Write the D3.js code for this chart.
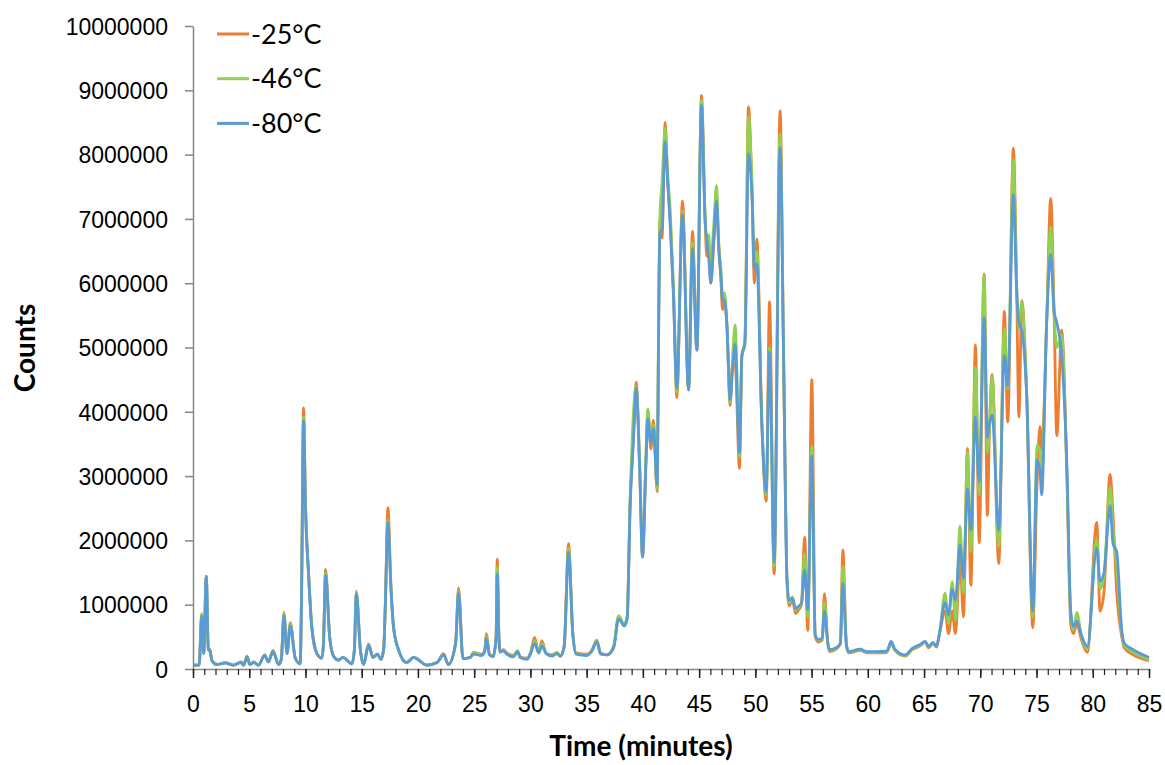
<!DOCTYPE html>
<html>
<head>
<meta charset="utf-8">
<script src="https://cdn.jsdelivr.net/npm/d3@7"></script>
<style>
  html, body { margin: 0; padding: 0; background: #ffffff; }
  svg { display: block; font-family: Lato, "Open Sans", "Liberation Sans", sans-serif; }
</style>
</head>
<body>
<svg id="chart" width="1165" height="765"></svg>
<script>
// Retention time (minutes)
const times = [
  0,0.55,0.77,0.95,1.18,1.36,1.5,1.69,2.13,2.87,
  3.61,4.27,4.5,4.8,5.05,5.39,5.83,6.37,6.7,7.11,
  7.61,7.85,8.09,8.36,8.65,9.09,9.53,9.65,9.83,10.0,
  10.28,10.57,11.02,11.47,11.6,11.79,12.15,12.5,12.94,13.33,
  14.13,14.35,14.52,14.88,15.17,15.61,16.0,16.4,16.7,16.95,
  17.1,17.33,17.6,17.83,18.27,19.0,19.61,20.8,21.7,22.28,
  22.7,23.35,23.61,24.0,24.65,24.94,25.68,25.95,26.07,26.37,
  26.7,26.95,27.05,27.2,27.3,27.6,27.9,28.5,28.85,29.1,
  29.7,30.0,30.37,30.74,31.02,31.4,31.9,32.36,32.65,33.0,
  33.39,33.77,34.07,35.02,35.46,35.9,36.25,36.8,37.4,37.84,
  38.34,38.6,38.87,39.16,39.4,39.7,39.97,40.27,40.44,40.71,
  40.94,41.27,41.39,41.51,41.7,41.98,42.2,42.43,42.72,43.02,
  43.52,44.06,44.41,44.8,45.21,45.54,45.68,45.85,46.04,46.3,
  46.55,46.75,46.95,47.08,47.26,47.47,47.76,47.95,48.2,48.59,
  48.8,49.07,49.39,49.69,49.92,50.13,50.58,50.96,51.26,51.67,
  52.2,52.5,52.8,53.0,53.3,53.57,53.85,54.1,54.38,54.66,
  55.02,55.32,55.6,55.95,56.14,56.45,56.6,57.26,57.56,57.78,
  58.1,58.3,59.32,59.9,60.8,61.7,62.07,62.4,63.32,63.95,
  64.65,65.1,65.4,65.8,66.1,66.37,66.87,67.17,67.5,67.79,
  68.2,68.5,68.86,69.16,69.57,69.9,70.34,70.63,70.8,71.05,
  71.64,72.14,72.44,72.94,73.24,73.43,73.69,74.13,74.66,75.05,
  75.3,75.46,75.9,76.26,76.56,76.8,77.24,77.69,78.04,78.28,
  78.58,79.0,79.52,80.35,80.65,81.0,81.54,81.8,82.13,82.58,
  82.8,83.6,85.0
];

// Counts in millions, one value per retention time
const countsMinus25 = [
  .06,.06,.86,.24,1.44,.32,.30,.13,.07,.10,
  .06,.11,.06,.20,.07,.11,.06,.22,.11,.29,
  .07,.15,.88,.24,.72,.17,.08,1.2,4.06,2.6,
  1.49,.65,.24,.17,.40,1.55,.50,.20,.14,.18,
  .08,.30,1.21,.30,.07,.39,.18,.23,.15,.30,
  1.0,2.51,1.3,.65,.30,.10,.18,.06,.10,.24,
  .07,.40,1.26,.16,.18,.26,.23,.30,.55,.22,
  .21,.50,1.71,.50,.28,.30,.25,.21,.28,.18,
  .17,.25,.49,.25,.44,.24,.22,.26,.20,.36,
  1.95,.55,.25,.23,.29,.45,.25,.22,.34,.80,
  .68,.80,2.61,3.6,4.46,3.2,1.75,3.21,4.04,3.42,
  3.87,2.76,5.2,6.98,6.7,8.5,7.6,7.0,5.85,4.22,
  7.28,4.34,6.81,4.96,8.92,6.95,6.42,6.5,6.0,6.6,
  7.2,6.6,6.0,5.59,5.7,5.35,4.1,4.7,4.75,3.12,
  4.87,5.1,8.74,7.5,6.0,6.69,3.8,2.61,5.71,1.48,
  8.68,4.99,1.43,.98,1.08,.86,.92,1.0,2.05,.60,
  4.5,.50,.42,.45,1.17,.38,.27,.32,.40,1.85,
  .37,.25,.29,.25,.25,.26,.41,.29,.20,.30,
  .36,.42,.33,.40,.34,.55,.90,.55,.90,.55,
  1.7,.81,3.43,1.3,5.04,1.96,6.14,2.39,3.6,4.58,
  1.64,5.56,3.84,8.1,5.85,3.92,5.73,4.24,.64,2.9,
  3.77,3.4,5.39,7.32,5.56,3.63,5.27,3.09,.70,.55,
  .70,.45,.26,2.28,.90,1.2,3.03,2.4,1.2,.50,
  .33,.22,.13
];

const countsMinus46 = [
  .06,.06,.85,.24,1.44,.32,.30,.13,.07,.10,
  .06,.11,.06,.20,.07,.11,.06,.22,.11,.28,
  .07,.15,.86,.24,.70,.17,.08,1.15,3.92,2.5,
  1.45,.64,.24,.17,.40,1.50,.50,.20,.14,.18,
  .08,.30,1.19,.30,.07,.38,.18,.23,.15,.30,
  1.0,2.32,1.25,.65,.30,.10,.18,.06,.10,.23,
  .07,.40,1.22,.16,.18,.25,.22,.30,.52,.22,
  .20,.50,1.58,.50,.27,.29,.24,.20,.28,.18,
  .16,.24,.44,.25,.40,.24,.21,.25,.20,.35,
  1.88,.55,.24,.22,.28,.44,.24,.22,.36,.83,
  .70,.82,2.65,3.98,4.40,3.3,1.80,3.30,4.04,3.50,
  3.80,2.80,5.35,7.0,7.55,8.41,7.7,7.13,5.95,4.30,
  7.12,4.34,6.63,4.96,8.85,7.0,6.6,6.75,6.3,6.9,
  7.52,6.6,6.2,5.75,5.85,5.35,4.15,4.75,5.35,3.3,
  4.87,5.1,8.59,7.6,6.3,6.5,3.85,2.7,5.0,1.6,
  8.32,5.0,1.45,1.03,1.12,.92,.96,1.02,1.79,.80,
  3.47,.52,.45,.47,1.04,.38,.29,.33,.40,1.59,
  .37,.26,.30,.26,.26,.27,.42,.30,.21,.31,
  .37,.42,.35,.41,.35,.55,1.18,.70,1.36,.76,
  2.22,1.18,3.37,1.82,4.7,2.71,6.14,3.37,3.7,4.55,
  1.9,5.3,4.35,7.92,5.9,5.3,5.7,4.24,.80,3.48,
  3.4,3.0,5.39,6.88,5.56,5.0,5.2,3.09,.85,.60,
  .88,.50,.32,2.02,1.24,1.45,2.83,2.2,1.6,.55,
  .37,.26,.15
];

const countsMinus80 = [
  .06,.06,.82,.24,1.44,.30,.28,.13,.07,.09,
  .06,.10,.06,.19,.07,.10,.06,.21,.11,.27,
  .07,.15,.83,.24,.67,.17,.08,1.1,3.86,2.5,
  1.45,.63,.24,.17,.40,1.46,.50,.20,.14,.18,
  .08,.30,1.17,.30,.07,.37,.18,.23,.15,.30,
  1.0,2.28,1.25,.65,.30,.10,.18,.06,.10,.22,
  .07,.40,1.19,.16,.18,.23,.21,.28,.48,.22,
  .19,.50,1.48,.50,.26,.28,.23,.19,.27,.18,
  .15,.23,.40,.25,.36,.24,.20,.24,.20,.34,
  1.82,.55,.23,.21,.28,.42,.23,.22,.33,.78,
  .67,.78,2.55,3.55,4.37,3.2,1.74,3.20,3.89,3.51,
  3.74,2.86,5.0,6.77,6.85,8.2,7.6,6.9,5.8,4.37,
  7.07,4.34,6.54,4.96,8.77,6.95,6.68,6.4,6.0,6.7,
  7.28,6.5,6.1,5.74,5.74,5.35,4.19,4.6,5.05,3.36,
  4.87,5.05,8.02,7.4,6.24,6.3,3.8,2.76,4.93,1.66,
  8.11,5.0,1.45,1.07,1.10,.94,.98,1.02,1.54,.92,
  3.32,.53,.46,.48,.90,.40,.30,.34,.40,1.33,
  .37,.27,.31,.27,.27,.28,.43,.31,.22,.32,
  .38,.43,.35,.41,.35,.55,1.03,.84,1.24,1.07,
  1.93,1.41,2.8,2.16,3.92,2.91,5.47,3.6,3.8,3.95,
  2.16,4.87,4.4,7.38,5.85,5.39,5.27,4.24,.90,3.25,
  3.1,2.71,5.39,6.45,5.56,5.39,4.87,3.2,.90,.66,
  .75,.52,.35,1.88,1.36,1.5,2.54,1.95,1.82,.60,
  .40,.30,.18
];

const seriesNames = ["-25°C", "-46°C", "-80°C"];
const seriesValues = [countsMinus25, countsMinus46, countsMinus80];
const seriesColors = ["#ED7D31", "#92D050", "#5B9BD5"];

const xTicks = [0, 5, 10, 15, 20, 25, 30, 35, 40, 45, 50, 55, 60, 65, 70, 75, 80, 85];
const xMinorTicks = [
  0,1,2,3,4,5,6,7,8,9,10,11,12,13,14,15,16,17,18,19,20,21,22,23,24,25,26,27,28,29,
  30,31,32,33,34,35,36,37,38,39,40,41,42,43,44,45,46,47,48,49,50,51,52,53,54,55,56,57,58,59,
  60,61,62,63,64,65,66,67,68,69,70,71,72,73,74,75,76,77,78,79,80,81,82,83,84,85
];
const yTicks = [0, 1000000, 2000000, 3000000, 4000000, 5000000, 6000000, 7000000, 8000000, 9000000, 10000000];
const MILLION = 1000000;

const svg = d3.select("#chart");
const plot = { left: 193, right: 1149, top: 26, bottom: 669 };

const x = d3.scaleLinear().domain([0, 85]).range([plot.left, plot.right]);
const y = d3.scaleLinear().domain([0, 10000000]).range([plot.bottom, plot.top]);

// Traces
const line = d3.line()
  .x(d => x(d.t))
  .y(d => y(d.v * MILLION))
  .curve(d3.curveMonotoneX);

const traces = svg.append("g").attr("class", "traces");
seriesValues.forEach((vals, i) => {
  const pts = times.map((t, k) => ({ t, v: vals[k] }));
  traces.append("path")
    .datum(pts)
    .attr("fill", "none")
    .attr("stroke", seriesColors[i])
    .attr("stroke-width", 2.8)
    .attr("stroke-linejoin", "round")
    .attr("d", line);
});

// Y axis
const yAxis = svg.append("g")
  .attr("transform", `translate(${plot.left},0)`)
  .call(d3.axisLeft(y).tickValues(yTicks).tickFormat(d3.format("d"))
    .tickSize(8).tickSizeOuter(0).tickPadding(17));
yAxis.select(".domain").attr("stroke", "#868686").attr("stroke-width", 1.5);
yAxis.selectAll(".tick line").attr("stroke", "#868686").attr("stroke-width", 1.5);
yAxis.selectAll(".tick text")
  .attr("fill", "#000").attr("font-size", 23).attr("dy", "0.36em");

// X axis: minute ticks, then labelled five-minute ticks
const xMinor = svg.append("g")
  .attr("transform", `translate(0,${plot.bottom})`)
  .call(d3.axisBottom(x).tickValues(xMinorTicks).tickFormat("").tickSize(6).tickSizeOuter(0));
xMinor.select(".domain").attr("stroke", "#868686").attr("stroke-width", 1.5);
xMinor.selectAll(".tick line").attr("stroke", "#222").attr("stroke-width", 1.2);

const xMajor = svg.append("g")
  .attr("transform", `translate(0,${plot.bottom})`)
  .call(d3.axisBottom(x).tickValues(xTicks).tickFormat(d3.format("d")).tickSize(9).tickSizeOuter(0).tickPadding(18));
xMajor.select(".domain").remove();
xMajor.selectAll(".tick line").attr("stroke", "#222").attr("stroke-width", 1.5);
xMajor.selectAll(".tick text").attr("fill", "#000").attr("font-size", 23);

// Axis titles
svg.append("text")
  .attr("x", 641).attr("y", 756)
  .attr("text-anchor", "middle")
  .attr("font-size", 28).attr("font-weight", "bold")
  .text("Time (minutes)");

svg.append("text")
  .attr("transform", "translate(35,348) rotate(-90)")
  .attr("text-anchor", "middle")
  .attr("font-size", 28).attr("font-weight", "bold")
  .text("Counts");

// Legend
const legend = svg.append("g").attr("transform", "translate(217,34)");
seriesNames.forEach((name, i) => {
  const g = legend.append("g").attr("transform", `translate(0,${i * 44.7})`);
  g.append("line").attr("x1", 0).attr("x2", 32).attr("y1", 0).attr("y2", 0)
    .attr("stroke", seriesColors[i]).attr("stroke-width", 3);
  g.append("text").attr("x", 34).attr("y", 0).attr("dy", "0.36em")
    .attr("font-size", 27).attr("fill", "#000").text(name);
});
</script>
</body>
</html>
